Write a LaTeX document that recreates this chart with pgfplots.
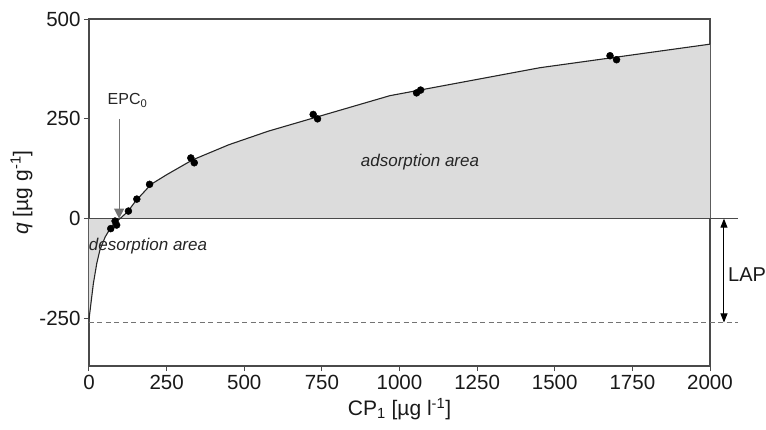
\documentclass[border=0pt]{standalone}
\usepackage{fontspec}
\setmainfont{Liberation Sans}
\usepackage{pgfplots}
\pgfplotsset{compat=1.18}
\usetikzlibrary{arrows.meta}
\definecolor{axgray}{HTML}{4A4A4A}
\definecolor{fillgray}{HTML}{DCDCDC}
\begin{document}
\begin{tikzpicture}
\begin{axis}[
  anchor=south west, at={(0pt,0pt)},
  scale only axis, width=621pt, height=347pt,
  xmin=0, xmax=2000, ymin=-369, ymax=500,
  axis line style={axgray, line width=1.1pt},
  xtick={0,250,500,750,1000,1250,1500,1750,2000},
  xticklabels={0,250,500,750,1000,1250,1500,1750,2000},
  ytick={-250,0,250,500},
  yticklabels={-250,0,250,500},
  xtick pos=left, ytick pos=left,
  tick align=outside, major tick length=5pt,
  tick style={axgray, line width=1pt},
  ticklabel style={font=\fontsize{20.5}{24}\selectfont, text=black!90},
  xticklabel style={yshift=-1pt},
  label style={font=\fontsize{21}{25}\selectfont, text=black!90},
  xlabel={CP\textsubscript{1} [µg l\textsuperscript{-1}]},
  ylabel={\textit{q} [µg g\textsuperscript{-1}]},
  xlabel style={yshift=-1pt},
  clip=false,
]
% filled areas between isotherm and zero line
\addplot[draw=none, fill=fillgray] coordinates {
  (0,-252) (14,-163) (25,-112) (35,-79) (52,-46) (68,-25) (84,-8) (100,0)
  (125,18) (150,44) (200,86) (250,110) (333,147) (450,185) (577,219)
  (969,308) (1452,378) (2000,437) (2000,0) (0,0)} -- cycle;
% zero line
\addplot[axgray, line width=1.1pt] coordinates {(0,0) (2090,0)};
% LAP dashed line
\addplot[black!55, line width=1.1pt, dash pattern=on 5pt off 3.5pt] coordinates {(0,-260) (2090,-260)};
% isotherm curve
\addplot[black!85, line width=1.1pt] coordinates {
  (0,-252) (14,-163) (25,-112) (35,-79) (52,-46) (68,-25) (84,-8) (100,0)
  (125,18) (150,44) (200,86) (250,110) (333,147) (450,185) (577,219)
  (969,308) (1452,378) (2000,437)};
% data points
\addplot[only marks, mark=*, mark size=3.5pt, black] coordinates {
  (70,-25) (84,-6) (89,-16) (127,19) (154,49) (195,86) (328,152) (339,140)
  (722,261) (736,250) (1055,315) (1068,322) (1678,408) (1699,398)};
% EPC0 arrow
\draw[black!55, line width=1.1pt, -{Triangle[width=10pt,length=10pt]}] (axis cs:97,250) -- (axis cs:97,0);
\node[font=\fontsize{16}{18}\selectfont, text=black!85] at (axis cs:124,296) {EPC\textsubscript{0}};
% LAP arrow
\draw[black, line width=1pt, {Triangle[width=7pt,length=9pt]}-{Triangle[width=7pt,length=9pt]}] (axis cs:2045,0) -- (axis cs:2045,-260);
\node[anchor=west, inner sep=0pt, font=\fontsize{20}{22}\selectfont, text=black!90] at (axis cs:2058,-141) {LAP};
% area labels
\node[font=\fontsize{17}{19}\selectfont\itshape, text=black!85] at (axis cs:190,-68) {desorption area};
\node[font=\fontsize{17}{19}\selectfont\itshape, text=black!85] at (axis cs:1066,141) {adsorption area};
\end{axis}
\pgfresetboundingbox
\path (-89pt,-63pt) rectangle (677pt,366pt);
\end{tikzpicture}
\end{document}
